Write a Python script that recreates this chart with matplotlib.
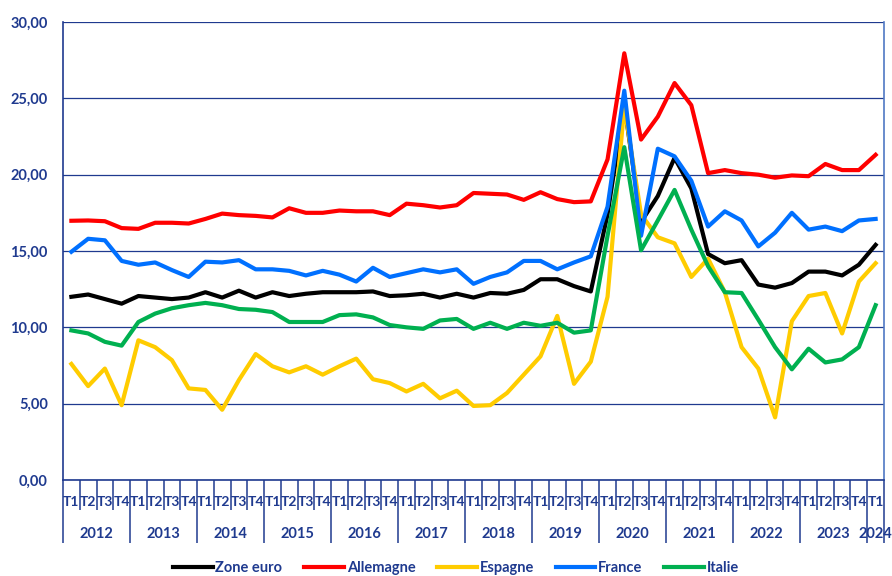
import numpy as np
import matplotlib.pyplot as plt

# trimestres 2012 T1 -> 2024 T1
years = [str(y) for y in range(2012, 2025)]
quarters = ['T1', 'T2', 'T3', 'T4']
labels_q = [q for y in years[:-1] for q in quarters] + ['T1']

zone_euro = [12.0, 12.15, 11.85, 11.55, 12.05, 11.95, 11.85, 11.95,
             12.3, 11.95, 12.4, 11.95, 12.3, 12.05, 12.2, 12.3,
             12.3, 12.3, 12.35, 12.05, 12.1, 12.2, 11.95, 12.2,
             11.95, 12.25, 12.2, 12.45, 13.15, 13.15, 12.7, 12.35,
             17.4, 24.6, 16.9, 18.6, 21.1, 19.1, 14.8, 14.2,
             14.4, 12.8, 12.6, 12.9, 13.65, 13.65, 13.4, 14.1, 15.4]
allemagne = [16.98, 17.0, 16.95, 16.5, 16.45, 16.85, 16.85, 16.8,
             17.1, 17.45, 17.35, 17.3, 17.2, 17.8, 17.5, 17.5,
             17.65, 17.6, 17.6, 17.35, 18.1, 18.0, 17.85, 18.0,
             18.8, 18.75, 18.7, 18.35, 18.85, 18.4, 18.2, 18.25,
             21.0, 27.95, 22.3, 23.8, 26.0, 24.55, 20.1, 20.3,
             20.1, 20.0, 19.8, 19.95, 19.9, 20.7, 20.3, 20.3, 21.3]
espagne = [7.6, 6.15, 7.3, 4.9, 9.15, 8.7, 7.85, 6.0,
           5.9, 4.6, 6.55, 8.25, 7.45, 7.05, 7.45, 6.9,
           7.45, 7.95, 6.6, 6.35, 5.8, 6.3, 5.35, 5.85,
           4.85, 4.9, 5.7, 6.9, 8.1, 10.75, 6.3, 7.75,
           12.0, 24.5, 17.4, 15.9, 15.5, 13.3, 14.5, 12.3,
           8.7, 7.3, 4.1, 10.4, 12.05, 12.25, 9.6, 13.0, 14.2]
france = [14.95, 15.8, 15.7, 14.35, 14.1, 14.25, 13.75, 13.3,
          14.3, 14.25, 14.4, 13.8, 13.8, 13.7, 13.4, 13.7,
          13.45, 13.0, 13.9, 13.3, 13.55, 13.8, 13.6, 13.8,
          12.85, 13.3, 13.6, 14.35, 14.35, 13.8, 14.25, 14.65,
          17.9, 25.5, 16.0, 21.7, 21.2, 19.6, 16.6, 17.6,
          17.0, 15.3, 16.2, 17.5, 16.4, 16.6, 16.3, 17.0, 17.1]
italie = [9.8, 9.6, 9.05, 8.8, 10.35, 10.9, 11.25, 11.45,
          11.6, 11.45, 11.2, 11.15, 11.0, 10.35, 10.35, 10.35,
          10.8, 10.85, 10.65, 10.15, 10.0, 9.9, 10.45, 10.55,
          9.9, 10.3, 9.9, 10.3, 10.1, 10.3, 9.65, 9.8,
          16.0, 21.8, 15.05, 17.0, 19.0, 16.4, 14.0, 12.3,
          12.25, 10.5, 8.7, 7.25, 8.6, 7.7, 7.9, 8.7, 11.45]

series = [('Zone euro', zone_euro, '#000000'),
          ('Allemagne', allemagne, '#ff0000'),
          ('Espagne', espagne, '#ffcc00'),
          ('France', france, '#0070ff'),
          ('Italie', italie, '#00b050')]

navy = '#1f3a8f'
plt.rcParams['font.family'] = ['Lato', 'DejaVu Sans']
plt.rcParams['font.weight'] = 'bold'

fig = plt.figure(figsize=(8.92, 5.76), dpi=100)
ax = fig.add_axes([63/892, 1-480/576, 821/892, 458/576])

x = np.arange(len(labels_q))
for i, (name, vals, col) in enumerate(series):
    ax.plot(x, vals, color=col, lw=3, label=name, zorder=3+i)

ax.set_xlim(-0.5, len(x)-0.5)
ax.set_ylim(0, 30)
ax.set_yticks(np.arange(0, 31, 5))
ax.set_yticklabels([f'{v:.2f}'.replace('.', ',') for v in np.arange(0, 31, 5)])
ax.tick_params(axis='y', length=0, pad=11, labelsize=10.5, labelcolor=navy)
ax.grid(axis='y', color=navy, lw=0.9)

for s in ['left', 'bottom']:
    ax.spines[s].set_color(navy)
    ax.spines[s].set_linewidth(1.2)
ax.spines['top'].set_visible(False)
ax.spines['right'].set_color('#4f78c4')
ax.spines['right'].set_linewidth(1.2)

# separateurs trimestres / annees
bounds = np.arange(len(x)+1) - 0.5
ax.set_xticks([b for k, b in enumerate(bounds) if k % 4 == 0 or k == len(x)])
ax.set_xticks(bounds, minor=True)
ax.set_xticklabels([])
ax.tick_params(axis='x', which='major', length=45, width=1.1, color=navy)
ax.tick_params(axis='x', which='minor', length=21.5, width=1.1, color=navy)

trans = ax.get_xaxis_transform()
for i, lab in enumerate(labels_q):
    ax.text(i, -22/458, lab, transform=trans, ha='center', va='center',
            fontsize=10, color=navy, fontweight='bold')
for k, yr in enumerate(years):
    xc = 4*k + 1.5 if k < len(years)-1 else len(x)-1
    ax.text(xc, -54/458, yr, transform=trans, ha='center', va='center',
            fontsize=10.5, color=navy, fontweight='bold')

leg = fig.legend(loc='center', bbox_to_anchor=(456/892, 1-568/576), ncol=5,
                 frameon=False, handlelength=2.7, handletextpad=0.2,
                 columnspacing=1.5, fontsize=10.5)
for t in leg.get_texts():
    t.set_color(navy)

fig.savefig('out.png', dpi=100)
